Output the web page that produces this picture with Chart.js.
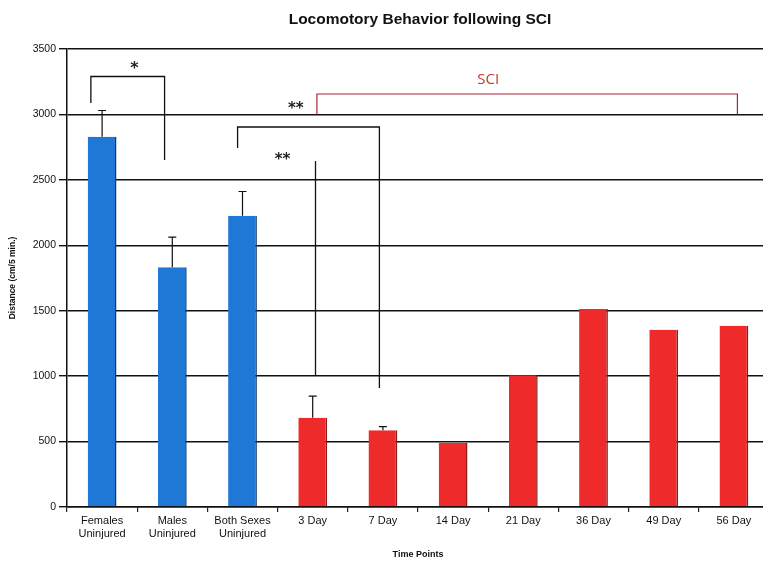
<!DOCTYPE html>
<html>
<head>
<meta charset="utf-8">
<script src="https://cdn.jsdelivr.net/npm/chart.js@4/dist/chart.umd.min.js"></script>
<style>
html,body{margin:0;padding:0;background:#fff;overflow:hidden;width:763px;height:563px}
#wrap{width:772px;height:563px;position:relative}
</style>
</head>
<body>
<div id="wrap"><canvas id="c"></canvas></div>
<script>
const labels=[["Females","Uninjured"],["Males","Uninjured"],["Both Sexes","Uninjured"],"3 Day","7 Day","14 Day","21 Day","36 Day","49 Day","56 Day"];
const distance=[2830,1832,2226,682,586,491,1006,1513,1355,1386];
const errUp=[200,230,185,166,28,0,0,0,0,0];
const injured=[false,false,false,true,true,true,true,true,true,true];
const yTicks=[0,500,1000,1500,2000,2500,3000,3500];

const BLUE='#1f78d6',RED='#ee2a2a';

// error bars (upper half only, with cap)
const errPlugin={
  id:'err',
  afterDatasetsDraw(ch){
    const ctx=ch.ctx,y=ch.scales.y,meta=ch.getDatasetMeta(0);
    ctx.save();ctx.strokeStyle='#111';ctx.lineWidth=1.2;
    meta.data.forEach((b,i)=>{
      if(!errUp[i])return;
      const top=y.getPixelForValue(distance[i]+errUp[i]);
      ctx.beginPath();
      ctx.moveTo(b.x,b.y);ctx.lineTo(b.x,top);
      ctx.moveTo(b.x-4,top);ctx.lineTo(b.x+4,top);
      ctx.stroke();
    });
    ctx.restore();
  }
};

// significance brackets, in category index / data units
const marks={
  id:'marks',
  afterDatasetsDraw(ch){
    const ctx=ch.ctx,xs=ch.scales.x,ys=ch.scales.y;
    const X=i=>{const w=xs.getPixelForValue(1)-xs.getPixelForValue(0);return xs.getPixelForValue(0)+i*w;};
    const Y=v=>ys.getPixelForValue(v);
    const path=(pts,col,lw)=>{
      ctx.beginPath();ctx.strokeStyle=col;ctx.lineWidth=lw;
      pts.forEach((p,k)=>k?ctx.lineTo(X(p[0]),Y(p[1])):ctx.moveTo(X(p[0]),Y(p[1])));
      ctx.stroke();
    };
    const txt=(s,i,v,col,font)=>{
      ctx.fillStyle=col;ctx.font=font;ctx.textAlign='center';ctx.textBaseline='middle';
      ctx.fillText(s,X(i),Y(v));
    };
    ctx.save();
    path([[-0.16,3087],[-0.16,3290],[0.89,3290],[0.89,2652]],'#111',1.3);
    txt('*',0.46,3345,'#222','bold 16px "DejaVu Sans"');
    path([[1.93,2743],[1.93,2904],[3.95,2904],[3.95,909]],'#111',1.3);
    path([[3.04,2644],[3.04,1001]],'#111',1.3);
    txt('**',2.57,2650,'#222','bold 15px "DejaVu Sans"');
    path([[3.06,3000],[3.06,3156],[9.05,3156],[9.05,3000]],'#a8283a',1.2);
    txt('**',2.76,3040,'#222','bold 15px "DejaVu Sans"');
    txt('SCI',5.5,3263,'#c0392b','15px "Open Sans"');
    ctx.restore();
  }
};

const titlePlugin={
  id:'ttl',
  afterDraw(ch){
    const ctx=ch.ctx,a=ch.chartArea;
    ctx.save();ctx.fillStyle='#111';ctx.font='bold 15.5px "Liberation Sans"';
    ctx.textAlign='center';ctx.textBaseline='middle';
    ctx.fillText('Locomotory Behavior following SCI',(a.left+a.right)/2+2,20);
    ctx.restore();
  }
};

new Chart(document.getElementById('c'),{
  type:'bar',
  data:{labels,datasets:[{
    data:distance,
    backgroundColor:injured.map(v=>v?RED:BLUE),
    borderColor:injured.map(v=>v?'#8a1a1a':'#163a66'),
    borderWidth:{top:0,left:0,bottom:0,right:1.5},
    borderSkipped:false,
    barPercentage:0.41,categoryPercentage:1
  }]},
  options:{
    responsive:true,maintainAspectRatio:false,animation:false,
    layout:{padding:{top:49,right:3,left:0,bottom:0}},
    plugins:{legend:{display:false},tooltip:{enabled:false}},
    scales:{
      x:{
        afterFit(s){s.height=56;},
        grid:{offset:true,drawOnChartArea:false,drawTicks:true,tickLength:5,color:'#222',lineWidth:1.2},
        border:{color:'#111',width:1.5},
        ticks:{color:'#111',font:{family:'Liberation Sans',size:11},padding:2,maxRotation:0,autoSkip:false},
        title:{display:true,text:'Time Points',color:'#111',font:{family:'Liberation Sans',size:9,weight:'bold'},padding:{top:0,bottom:3}}
      },
      y:{
        min:0,max:3500,
        afterFit(s){s.width=67;},
        afterBuildTicks(s){s.ticks=yTicks.map(v=>({value:v}));},
        grid:{color:'#111',lineWidth:1.4,tickLength:8},
        border:{color:'#111',width:1.5},
        ticks:{color:'#111',font:{family:'Liberation Sans',size:10.5},padding:3,callback:v=>String(v)},
        title:{display:true,text:'Distance (cm/5 min.)',color:'#111',font:{family:'Liberation Sans',size:8.5,weight:'bold'},padding:{top:8,bottom:0}}
      }
    }
  },
  plugins:[errPlugin,marks,titlePlugin]
});
</script>
</body>
</html>
